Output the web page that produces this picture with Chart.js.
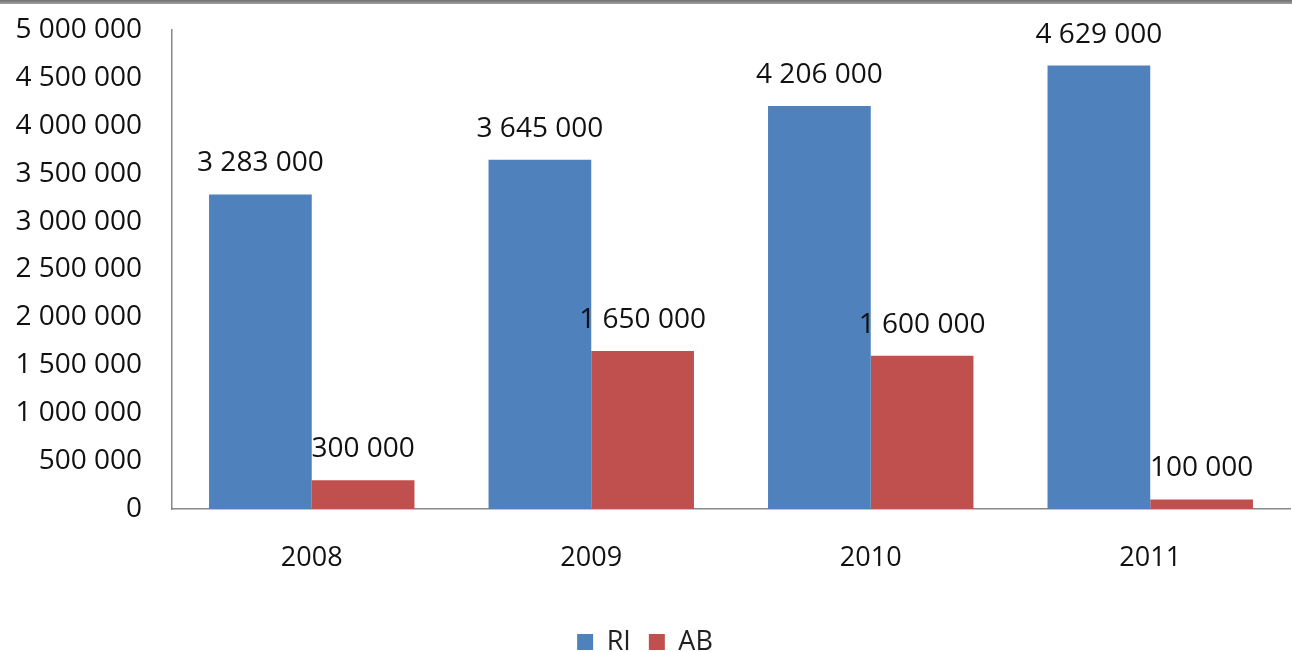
<!DOCTYPE html>
<html>
<head>
<meta charset="utf-8">
<script src="https://cdn.jsdelivr.net/npm/chart.js@4"></script>
<style>
  body { margin: 0; background: #fff; }
  #wrap { position: relative; width: 1292px; height: 652px; }
  #topbar { position: absolute; left: 0; top: 0; width: 1292px; height: 4px; background: linear-gradient(#6e6e6e, #a0a0a0); }
</style>
</head>
<body>
<div id="wrap">
  <canvas id="chart" width="1292" height="652"></canvas>
  <div id="topbar"></div>
</div>
<script>
const years = ['2008', '2009', '2010', '2011'];
const riValues = [3283000, 3645000, 4206000, 4629000];
const abValues = [300000, 1650000, 1600000, 100000];
const yTicks = [0, 500000, 1000000, 1500000, 2000000, 2500000, 3000000, 3500000, 4000000, 4500000, 5000000];

const FONT = "'Open Sans', 'Noto Sans', sans-serif";
const LEGEND_Y = 638;

function fmt(v) {
  return String(v).replace(/\B(?=(\d{3})+(?!\d))/g, ' ');
}

// draws the value above each bar
const valueLabels = {
  id: 'valueLabels',
  afterDatasetsDraw(chart) {
    const ctx = chart.ctx;
    ctx.save();
    ctx.font = '28px ' + FONT;
    ctx.fillStyle = '#111';
    ctx.textAlign = 'center';
    ctx.textBaseline = 'bottom';
    chart.data.datasets.forEach((ds, i) => {
      const meta = chart.getDatasetMeta(i);
      meta.data.forEach((bar, j) => {
        ctx.fillText(fmt(ds.data[j]), bar.x, bar.y - 17);
      });
    });
    ctx.restore();
  }
};

// move the legend row down to where it sits in the original
const legendShift = {
  id: 'legendShift',
  afterLayout(chart) {
    const l = chart.legend;
    const h = l.bottom - l.top;
    l.top = LEGEND_Y - h / 2;
    l.bottom = l.top + h;
  }
};

new Chart(document.getElementById('chart'), {
  type: 'bar',
  data: {
    labels: years,
    datasets: [
      { label: 'RI', data: riValues, backgroundColor: '#4F81BD' },
      { label: 'AB', data: abValues, backgroundColor: '#C0504D' }
    ]
  },
  options: {
    responsive: false,
    animation: false,
    devicePixelRatio: 1,
    layout: { padding: { left: 0, right: 2, top: 30, bottom: 0 } },
    datasets: { bar: { categoryPercentage: 0.735, barPercentage: 1 } },
    scales: {
      x: {
        grid: { display: false },
        border: { display: true, color: '#888', width: 1.5 },
        ticks: { color: '#111', font: { family: FONT, size: 27 }, padding: 25 },
        afterFit: (s) => { s.height = 88; s.paddingLeft = 0; s.paddingRight = 0; }
      },
      y: {
        min: 0,
        max: 5000000,
        afterBuildTicks: (s) => { s.ticks = yTicks.map(v => ({ value: v })); },
        grid: { display: false },
        border: { display: true, color: '#888', width: 1.5 },
        ticks: {
          color: '#111',
          font: { family: FONT, size: 28 },
          padding: 22,
          callback: (v) => fmt(v)
        },
        afterFit: (s) => { s.width = 172; s.paddingTop = 0; s.paddingBottom = 0; }
      }
    },
    plugins: {
      legend: {
        position: 'bottom',
        labels: {
          color: '#222',
          font: { family: FONT, size: 27 },
          boxWidth: 16,
          boxHeight: 16,
          padding: 18
        }
      },
      tooltip: { enabled: false }
    }
  },
  plugins: [valueLabels, legendShift]
});
</script>
</body>
</html>
